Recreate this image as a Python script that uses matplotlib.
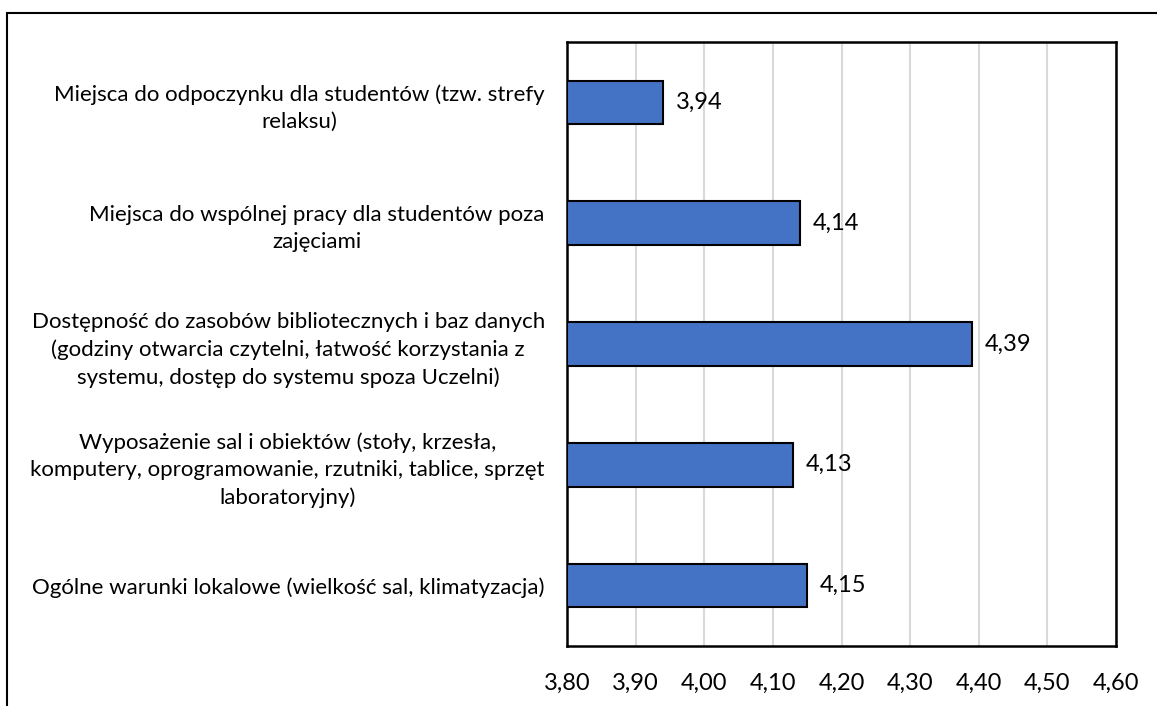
import matplotlib
matplotlib.use("Agg")
import matplotlib.pyplot as plt
from matplotlib.patches import Rectangle

categories = [
    "Ogólne warunki lokalowe (wielkość sal, klimatyzacja)",
    "Wyposażenie sal i obiektów (stoły, krzesła,\nkomputery, oprogramowanie, rzutniki, tablice, sprzęt\nlaboratoryjny)",
    "Dostępność do zasobów bibliotecznych i baz danych\n(godziny otwarcia czytelni, łatwość korzystania z\nsystemu, dostęp do systemu spoza Uczelni)",
    "Miejsca do wspólnej pracy dla studentów poza\nzajęciami",
    "Miejsca do odpoczynku dla studentów (tzw. strefy\nrelaksu)",
]
values = [4.15, 4.13, 4.39, 4.14, 3.94]
xticks = [3.80, 3.90, 4.00, 4.10, 4.20, 4.30, 4.40, 4.50, 4.60]

plt.rcParams['font.family'] = ['Lato', 'DejaVu Sans']

fig = plt.figure(figsize=(11.57, 7.06), dpi=100)
ax = fig.add_axes([567 / 1157, 1 - 646 / 706, (1116 - 567) / 1157, (646 - 42) / 706])

ypos = list(range(len(categories)))
ax.barh(ypos, [v - xticks[0] for v in values], left=xticks[0], height=0.36,
        color="#4472C4", edgecolor="black", linewidth=1.5, zorder=3)

for y, v in zip(ypos, values):
    ax.annotate(f"{v:.2f}".replace(".", ","), (v, y), xytext=(9, 0),
                textcoords="offset points", va="center", ha="left",
                fontsize=17, color="black")

ax.set_xlim(xticks[0], xticks[-1])
ax.set_ylim(-0.5, len(categories) - 0.5)
ax.set_xticks(xticks)
ax.set_xticklabels([f"{t:.2f}".replace(".", ",") for t in xticks], fontsize=17)
ax.set_yticks(ypos)
ax.set_yticklabels(categories, fontsize=16, multialignment="center", linespacing=1.45)
ax.tick_params(axis="both", length=0)
ax.tick_params(axis="y", pad=16)
ax.tick_params(axis="x", pad=19)
ax.grid(axis="x", color="#D9D9D9", linewidth=1.5, zorder=0)
for s in ax.spines.values():
    s.set_linewidth(1.8)
    s.set_color("black")

# outer chart border (partly cut by the image edge)
fig.patches.append(Rectangle((7 / 1157, -0.1), 1.2, 1 - 13 / 706 + 0.1,
                             transform=fig.transFigure, fill=False,
                             edgecolor="black", linewidth=1.5))

fig.savefig("out.png", dpi=100)
